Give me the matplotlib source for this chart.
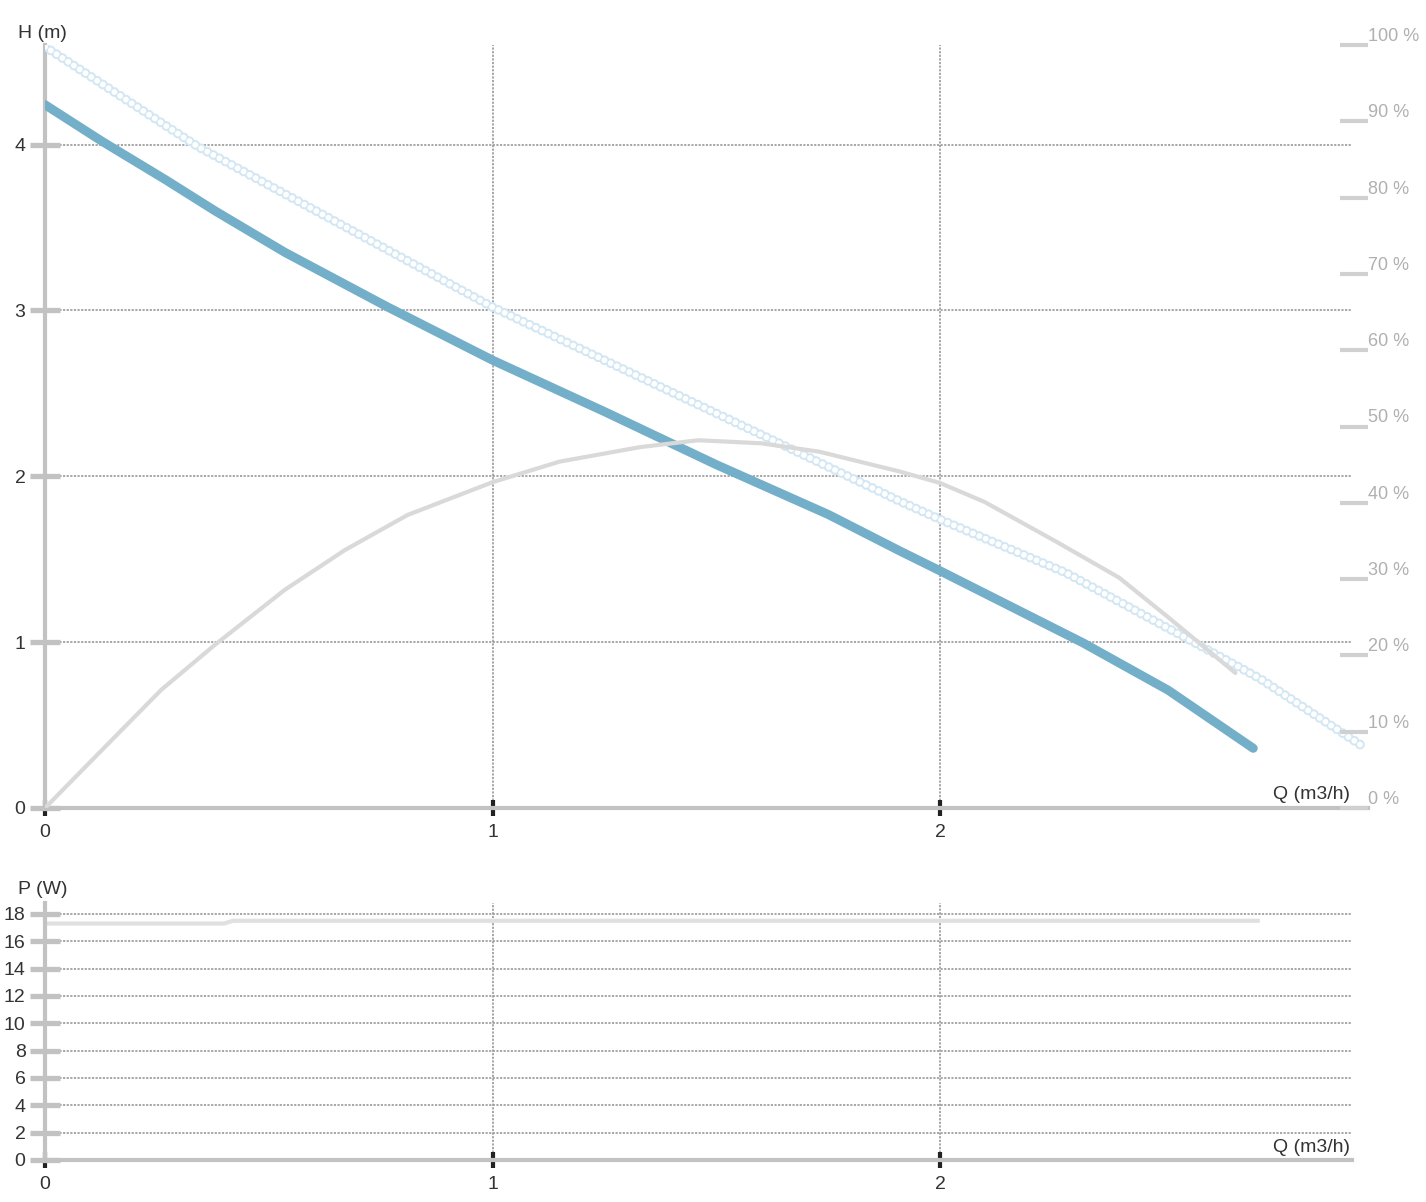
import matplotlib.pyplot as plt
import numpy as np

plt.rcParams['font.family'] = ['Liberation Sans', 'DejaVu Sans']

# Pump curve data
q_head = [0.0, 0.127, 0.268, 0.38, 0.536, 0.766, 1.0, 1.25, 1.5, 1.75, 1.91, 2.0,
          2.32, 2.51, 2.70]
head = [4.24, 4.02, 3.79, 3.60, 3.35, 3.02, 2.70, 2.39, 2.07, 1.77, 1.55, 1.43,
        0.995, 0.71, 0.36]

q_max = [0.0, 0.34, 1.0, 1.64, 1.91, 2.0, 2.28, 2.56, 2.715, 2.94]
head_max = [4.59, 3.99, 3.02, 2.20, 1.85, 1.74, 1.42, 1.01, 0.78, 0.38]

q_eff = [0.0, 0.134, 0.26, 0.38, 0.536, 0.67, 0.81, 1.0, 1.15, 1.33, 1.46, 1.6,
         1.73, 1.91, 2.0, 2.10, 2.26, 2.40, 2.51, 2.66]
eff = [0.0, 8.0, 15.5, 21.4, 28.6, 33.8, 38.4, 42.7, 45.4, 47.3, 48.2, 47.8,
       46.7, 44.1, 42.6, 40.1, 34.9, 30.2, 25.0, 17.7]

q_pow = [0.0, 0.4, 0.42, 2.71]
power = [17.3, 17.3, 17.5, 17.5]

x_ticks = [0, 1, 2]
h_ticks = [0, 1, 2, 3, 4]
eff_ticks = list(range(0, 101, 10))
p_ticks = list(range(0, 19, 2))

W, H = 1426, 1202
AX_GRAY = '#c2c2c2'
GRID = '#a0a0a0'
TXT = '#333333'
fs = 14


def px_box(left, right, top, bottom):
    return [left / W, 1 - bottom / H, (right - left) / W, (bottom - top) / H]


def style_axis(ax, yticks, ylabels, grid_end):
    for s in ['top', 'right']:
        ax.spines[s].set_visible(False)
    for s in ['left', 'bottom']:
        ax.spines[s].set_color(AX_GRAY)
        ax.spines[s].set_linewidth(3)
    ax.set_xticks(x_ticks)
    ax.set_xticklabels([str(v) for v in x_ticks])
    ax.set_yticks(yticks)
    ax.set_yticklabels(ylabels)
    ax.tick_params(axis='x', direction='inout', length=11, width=3, color='#222222',
                   pad=6, labelsize=fs, labelcolor=TXT)
    ax.tick_params(axis='y', direction='inout', length=22, width=3.8, color=AX_GRAY,
                   pad=3, labelsize=fs, labelcolor=TXT)
    ax.hlines([v for v in yticks if v > 0], 0, grid_end, colors=GRID,
              linewidth=1.3, linestyles=(0, (1.2, 0.8)), zorder=1)
    ymax = ax.get_ylim()[1]
    ax.vlines([v for v in x_ticks if v > 0], 0, ymax, colors=GRID,
              linewidth=1.3, linestyles=(0, (1.2, 0.8)), zorder=1)


fig = plt.figure(figsize=(W / 100, H / 100), dpi=100)

# ---- head / efficiency panel
ax = fig.add_axes(px_box(45, 1368, 45, 808))
ax.set_xlim(0, (1368 - 45) / 447.5)
ax.set_ylim(0, 4.6)
style_axis(ax, h_ticks, [str(v) for v in h_ticks], 2.92)

ax2 = ax.twinx()
ax2.set_ylim(0, 100)
for s in ax2.spines.values():
    s.set_visible(False)
ax2.set_yticks(eff_ticks)
ax2.set_yticklabels([f'{v} %' for v in eff_ticks])
ax2.tick_params(axis='y', direction='in', length=20, width=3, color='#d0d0d0',
                pad=0, labelsize=13, labelcolor='#b0b0b0')
for lbl in ax2.get_yticklabels():
    lbl.set_va('bottom')

ax2.plot(q_eff, eff, color='#d9d9d9', linewidth=3, solid_capstyle='round', zorder=2)

# ringed max curve: thick light-blue dots with white centres
lw_o, lw_i = 7.0, 4.2
k = lw_o / lw_i
ax.plot(q_max, head_max, color='#d2e7f3', linewidth=lw_o,
        linestyle=(0, (0.01, 0.7)), dash_capstyle='round', zorder=3)
ax.plot(q_max, head_max, color='white', linewidth=lw_i,
        linestyle=(0, (0.01 * k, 0.7 * k)), dash_capstyle='round', zorder=3)
ax.plot(q_head, head, color='#74afc9', linewidth=6.5, solid_capstyle='round', zorder=4)

ax.text(2.916, 0.03, 'Q (m3/h)', ha='right', va='bottom', fontsize=fs, color=TXT)
fig.text(18 / W, 1 - 33 / H, 'H (m)', ha='left', va='center', fontsize=fs, color=TXT)

# ---- power panel
axp = fig.add_axes(px_box(45, 1352, 903, 1160))
axp.set_xlim(0, (1352 - 45) / 447.5)
axp.set_ylim(0, (1160 - 903) / 13.67)
style_axis(axp, p_ticks, [str(v) for v in p_ticks], 2.92)
axp.plot(q_pow, power, color='#e0e0e0', linewidth=3, zorder=2)
axp.text(2.916, 0.3, 'Q (m3/h)', ha='right', va='bottom', fontsize=fs, color=TXT)
fig.text(18 / W, 1 - 890 / H, 'P (W)', ha='left', va='center', fontsize=fs, color=TXT)

fig.savefig('out.png', dpi=100)
